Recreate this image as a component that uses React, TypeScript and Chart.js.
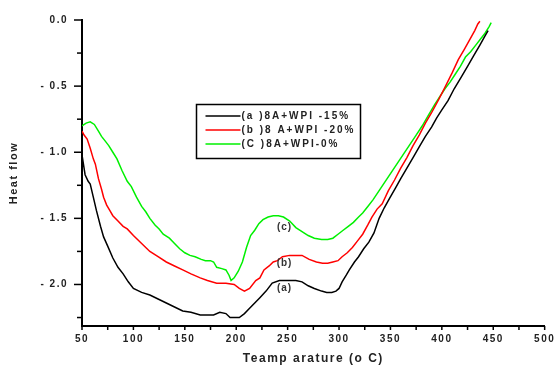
import React, { useEffect, useRef } from "react";
import { Chart, registerables } from "chart.js";

Chart.register(...registerables);

const FONT = "Arial, 'Liberation Sans', sans-serif";

const seriesLabels = ["(a )8A+WPI -15%", "(b )8 A+WPI -20%", "(C )8A+WPI-0%"];
const seriesColors = ["#000000", "#ff0000", "#00f000"];

const tempA = [50, 53, 56, 58, 61, 64, 68, 71, 75, 80, 85, 90, 95, 100, 108, 116, 124, 132, 140, 148, 156, 165, 172, 178, 184, 190, 194, 199, 203, 208, 213, 218, 223, 229, 235, 242, 250, 258, 264, 270, 276, 283, 288, 293, 297, 300, 303, 307, 310, 315, 319, 324, 329, 334, 339, 344, 349, 355, 360, 366, 372, 378, 384, 390, 395, 400, 406, 412, 419, 425, 431, 437, 442, 445];
const heatA = [-1.02, -1.17, -1.22, -1.24, -1.34, -1.44, -1.56, -1.64, -1.71, -1.80, -1.87, -1.92, -1.98, -2.03, -2.06, -2.08, -2.11, -2.14, -2.17, -2.20, -2.21, -2.23, -2.23, -2.23, -2.21, -2.22, -2.25, -2.25, -2.25, -2.22, -2.18, -2.14, -2.10, -2.05, -1.99, -1.97, -1.97, -1.97, -1.98, -2.01, -2.03, -2.05, -2.06, -2.06, -2.05, -2.03, -1.98, -1.93, -1.89, -1.83, -1.79, -1.73, -1.68, -1.61, -1.50, -1.42, -1.35, -1.27, -1.20, -1.12, -1.04, -0.96, -0.88, -0.81, -0.74, -0.68, -0.61, -0.52, -0.43, -0.35, -0.27, -0.19, -0.12, -0.08];

const tempB = [50, 52, 55, 58, 61, 63, 66, 69, 71, 74, 77, 80, 85, 90, 94, 100, 108, 116, 124, 132, 140, 148, 156, 165, 172, 181, 190, 198, 203, 208, 213, 219, 223, 227, 232, 236, 240, 245, 252, 258, 264, 271, 278, 284, 289, 294, 299, 303, 308, 313, 318, 323, 328, 332, 337, 342, 348, 354, 360, 366, 372, 378, 384, 390, 397, 403, 410, 416, 422, 427, 432, 435, 437];
const heatB = [-0.84, -0.87, -0.90, -0.97, -1.05, -1.09, -1.20, -1.28, -1.34, -1.40, -1.44, -1.48, -1.52, -1.56, -1.58, -1.63, -1.69, -1.75, -1.79, -1.83, -1.86, -1.89, -1.92, -1.95, -1.97, -1.99, -1.99, -2.00, -2.03, -2.05, -2.03, -1.97, -1.95, -1.89, -1.86, -1.83, -1.82, -1.79, -1.78, -1.78, -1.78, -1.81, -1.83, -1.84, -1.84, -1.83, -1.82, -1.79, -1.76, -1.72, -1.67, -1.62, -1.55, -1.49, -1.43, -1.39, -1.29, -1.21, -1.12, -1.04, -0.95, -0.87, -0.78, -0.70, -0.60, -0.51, -0.40, -0.30, -0.22, -0.15, -0.08, -0.03, -0.01];

const tempC = [50, 54, 58, 62, 66, 69, 73, 76, 80, 84, 89, 94, 98, 103, 108, 112, 116, 121, 125, 129, 135, 140, 145, 150, 155, 160, 166, 170, 175, 178, 181, 186, 190, 193, 195, 198, 202, 206, 210, 214, 218, 222, 226, 231, 236, 241, 246, 252, 258, 264, 270, 276, 283, 289, 294, 299, 304, 309, 314, 319, 323, 328, 333, 339, 345, 351, 357, 363, 369, 375, 381, 387, 393, 398, 403, 408, 413, 418, 423, 428, 433, 438, 442, 446, 448];
const heatC = [-0.80, -0.78, -0.77, -0.79, -0.84, -0.88, -0.92, -0.95, -1.00, -1.05, -1.14, -1.22, -1.26, -1.34, -1.41, -1.45, -1.50, -1.55, -1.58, -1.62, -1.65, -1.69, -1.73, -1.76, -1.78, -1.79, -1.81, -1.82, -1.82, -1.83, -1.87, -1.88, -1.89, -1.93, -1.97, -1.95, -1.90, -1.83, -1.72, -1.63, -1.59, -1.54, -1.51, -1.49, -1.48, -1.48, -1.49, -1.52, -1.57, -1.60, -1.63, -1.65, -1.66, -1.66, -1.65, -1.62, -1.59, -1.56, -1.53, -1.49, -1.46, -1.41, -1.36, -1.29, -1.22, -1.15, -1.08, -1.01, -0.94, -0.87, -0.80, -0.72, -0.64, -0.58, -0.52, -0.47, -0.41, -0.35, -0.28, -0.24, -0.19, -0.14, -0.10, -0.05, -0.02];

const xTickValues = [50, 100, 150, 200, 250, 300, 350, 400, 450, 500];
const xTickLabels = ["50", "100", "150", "200", "250", "300", "350", "400", "450", "500"];
const xMinorValues = [50, 75, 100, 125, 150, 175, 200, 225, 250, 275, 300, 325, 350, 375, 400, 425, 450, 475, 500];
const yTickValues = [0, -0.5, -1.0, -1.5, -2.0];
const yTickLabels = ["0.0", "- 0.5", "- 1.0", "- 1.5", "- 2.0"];
const yMinorValues = [0, -0.25, -0.5, -0.75, -1.0, -1.25, -1.5, -1.75, -2.0, -2.25];

const curveTags = ["(a)", "(b)", "(c)"];
const tagTemp = [247, 247, 247];
const tagHeat = [-2.03, -1.84, -1.57];

const xTitle = "Teamp arature (o C)";
const yTitle = "Heat flow";

function toPoints(xs: number[], ys: number[]) {
  return xs.map((v, i) => ({ x: v, y: ys[i] }));
}

const decor = {
  id: "decor",
  beforeDraw(chart: any) {
    chart.ctx.letterSpacing = "1.5px";
  },
  afterDraw(chart: any) {
    const { ctx, chartArea } = chart;
    const xs = chart.scales.x;
    const ys = chart.scales.y;
    ctx.save();
    ctx.strokeStyle = "#000";
    ctx.lineWidth = 1.5;
    yMinorValues.forEach((v) => {
      const py = ys.getPixelForValue(v);
      const major = Math.abs(v * 2 - Math.round(v * 2)) < 1e-6;
      const len = major ? 8 : 5;
      ctx.beginPath();
      ctx.moveTo(chartArea.left - len, py);
      ctx.lineTo(chartArea.left, py);
      ctx.stroke();
    });
    xMinorValues.forEach((v) => {
      const px = xs.getPixelForValue(v);
      ctx.beginPath();
      ctx.moveTo(px, chartArea.bottom);
      ctx.lineTo(px, chartArea.bottom + 4);
      ctx.stroke();
    });

    // curve tags
    ctx.letterSpacing = "1px";
    ctx.font = `bold 10px ${FONT}`;
    ctx.fillStyle = "#333";
    ctx.textAlign = "center";
    ctx.textBaseline = "middle";
    curveTags.forEach((t, i) => {
      ctx.fillText(t, xs.getPixelForValue(tagTemp[i]), ys.getPixelForValue(tagHeat[i]));
    });

    // legend box
    const bx = 196.5, by = 104.5, bw = 164, bh = 54;
    ctx.fillStyle = "#fff";
    ctx.fillRect(bx, by, bw, bh);
    ctx.strokeStyle = "#000";
    ctx.lineWidth = 1.5;
    ctx.strokeRect(bx, by, bw, bh);
    ctx.letterSpacing = "2px";
    ctx.font = `bold 10px ${FONT}`;
    ctx.textAlign = "left";
    ctx.textBaseline = "middle";
    chart.data.datasets.forEach((ds: any, i: number) => {
      const ry = by + 11.5 + i * 14;
      ctx.strokeStyle = ds.borderColor;
      ctx.lineWidth = 1.5;
      ctx.beginPath();
      ctx.moveTo(bx + 9, ry);
      ctx.lineTo(bx + 44, ry);
      ctx.stroke();
      ctx.fillStyle = "#222";
      ctx.fillText(ds.label, bx + 45, ry + 0.5);
    });
    ctx.restore();
  },
};

export default function App() {
  const ref = useRef<HTMLCanvasElement | null>(null);

  useEffect(() => {
    if (!ref.current) return;
    const series = [
      toPoints(tempA, heatA),
      toPoints(tempB, heatB),
      toPoints(tempC, heatC),
    ];
    const chart = new Chart(ref.current, {
      type: "line",
      data: {
        datasets: series.map((pts, i) => ({
          label: seriesLabels[i],
          data: pts,
          borderColor: seriesColors[i],
          backgroundColor: seriesColors[i],
          borderWidth: 1.5,
          pointRadius: 0,
          tension: 0,
          fill: false,
        })),
      },
      options: {
        responsive: false,
        animation: false,
        parsing: false as any,
        layout: { padding: { left: 0, right: 13, top: 19, bottom: 0 } },
        plugins: {
          legend: { display: false },
          tooltip: { enabled: false },
        },
        scales: {
          x: {
            type: "linear",
            min: 50,
            max: 500,
            afterBuildTicks: (s: any) => {
              s.ticks = xTickValues.map((v) => ({ value: v }));
            },
            afterFit: (s: any) => {
              s.height = 43;
            },
            ticks: {
              padding: 7,
              color: "#222",
              font: { family: FONT, size: 10, weight: "bold" },
              callback: (v: any) => {
                const i = xTickValues.indexOf(Number(v));
                return i >= 0 ? xTickLabels[i] : "";
              },
              maxRotation: 0,
            },
            grid: { display: false, drawTicks: false },
            border: { display: true, color: "#000", width: 2 },
            title: {
              display: true,
              text: xTitle,
              color: "#222",
              font: { family: FONT, size: 12, weight: "bold" },
              padding: { top: 4, bottom: 3 },
            },
          },
          y: {
            type: "linear",
            min: -2.314,
            max: 0,
            afterBuildTicks: (s: any) => {
              s.ticks = yTickValues.map((v) => ({ value: v }));
            },
            afterFit: (s: any) => {
              s.width = 82;
            },
            ticks: {
              padding: 14,
              color: "#222",
              font: { family: FONT, size: 10, weight: "bold" },
              callback: (v: any) => {
                const i = yTickValues.findIndex((t) => Math.abs(t - Number(v)) < 1e-6);
                return i >= 0 ? yTickLabels[i] : "";
              },
            },
            grid: { display: false, drawTicks: false },
            border: { display: true, color: "#000", width: 2 },
            title: {
              display: true,
              text: yTitle,
              color: "#222",
              font: { family: FONT, size: 11, weight: "bold" },
              padding: { top: 7, bottom: 4 },
            },
          },
        },
      },
      plugins: [decor],
    });
    return () => chart.destroy();
  }, []);

  return (
    <div style={{ position: "absolute", left: 0, top: 0, width: 560, height: 369, background: "#fff" }}>
      <canvas ref={ref} width={560} height={369} />
    </div>
  );
}
